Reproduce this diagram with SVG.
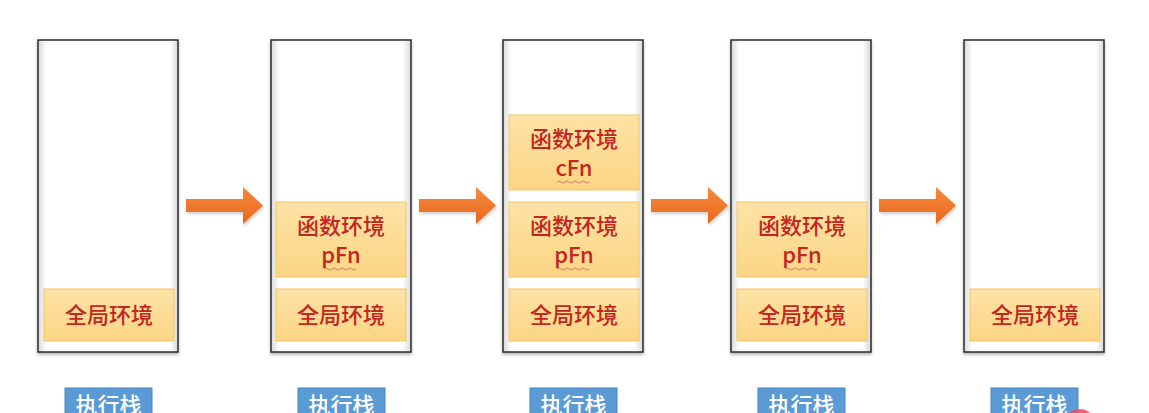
<svg xmlns="http://www.w3.org/2000/svg" width="1149" height="413" viewBox="0 0 1149 413">
<defs>
  <linearGradient id="boxg" x1="0" y1="0" x2="0" y2="1">
    <stop offset="0" stop-color="#fde3a6"/>
    <stop offset="1" stop-color="#fbd584"/>
  </linearGradient>
  <linearGradient id="arrg" x1="0" y1="0" x2="0" y2="1">
    <stop offset="0" stop-color="#f58a3c"/>
    <stop offset="1" stop-color="#e8671e"/>
  </linearGradient>
  <linearGradient id="colg" x1="0" y1="0" x2="1" y2="0">
    <stop offset="0" stop-color="#d8d8d8"/>
    <stop offset="0.06" stop-color="#ffffff"/>
    <stop offset="0.94" stop-color="#ffffff"/>
    <stop offset="1" stop-color="#d8d8d8"/>
  </linearGradient>
  <filter id="sh" x="-10%" y="-10%" width="120%" height="120%">
    <feDropShadow dx="0" dy="2" stdDeviation="1.5" flood-color="#000" flood-opacity="0.3"/>
  </filter>
  <filter id="ash" x="-10%" y="-20%" width="130%" height="150%">
    <feDropShadow dx="1" dy="2" stdDeviation="1.5" flood-color="#000" flood-opacity="0.2"/>
  </filter>
  <path id="arrow" d="M0,12 H57 V0 L77,18.5 L57,37 V25 H0 Z"/>
</defs>
<style>
  .col { fill: url(#colg); stroke: #2b2b2b; stroke-width: 1.5; filter: url(#sh); }
  .box { fill: url(#boxg); stroke: #f3c463; stroke-width: 1; }
  .t { font-family: "Noto Sans CJK SC", "Noto Sans", sans-serif; font-size: 22px; font-weight: 500; fill: #c3261e; text-anchor: middle; }
  .lbl { fill: #5b9bd5; stroke: #4a86c0; stroke-width: 1; }
  .lt { font-family: "Noto Sans CJK SC", sans-serif; font-size: 22px; font-weight: 500; fill: #ffffff; text-anchor: middle; }
  .wave { fill: none; stroke: #d06060; stroke-width: 0.8; }
  .arr { fill: url(#arrg); filter: url(#ash); }
</style>

<g id="connectors">
  <use href="#arrow" class="arr" x="186" y="187"/>
  <use href="#arrow" class="arr" x="419" y="187"/>
  <use href="#arrow" class="arr" x="651" y="187"/>
  <use href="#arrow" class="arr" x="879" y="187"/>
</g>

<g id="stack1">
  <rect class="col" x="38" y="40" width="140" height="312"/>
  <rect class="box" x="44" y="289" width="130" height="52"/>
  <text class="t" x="109" y="323">全局环境</text>
  <rect class="lbl" x="65" y="388" width="87" height="30"/>
  <text class="lt" x="108.5" y="413">执行栈</text>
</g>

<g id="stack2">
  <rect class="col" x="271" y="40" width="140" height="312"/>
  <rect class="box" x="276" y="202" width="130" height="75"/>
  <text class="t" x="341" y="234">函数环境</text>
  <text class="t" x="341" y="263">pFn</text>
  <path class="wave" d="M324,269 q2,-2 4,0 t4,0 t4,0 t4,0 t4,0 t4,0 t4,0 t4,0"/>
  <rect class="box" x="276" y="289" width="130" height="52"/>
  <text class="t" x="341" y="323">全局环境</text>
  <rect class="lbl" x="298" y="388" width="87" height="30"/>
  <text class="lt" x="341.5" y="413">执行栈</text>
</g>

<g id="stack3">
  <rect class="col" x="503" y="40" width="140" height="312"/>
  <rect class="box" x="509" y="115" width="130" height="75"/>
  <text class="t" x="574" y="147">函数环境</text>
  <text class="t" x="574" y="176">cFn</text>
  <path class="wave" d="M557,182 q2,-2 4,0 t4,0 t4,0 t4,0 t4,0 t4,0 t4,0 t4,0"/>
  <rect class="box" x="509" y="202" width="130" height="75"/>
  <text class="t" x="574" y="234">函数环境</text>
  <text class="t" x="574" y="263">pFn</text>
  <path class="wave" d="M557,269 q2,-2 4,0 t4,0 t4,0 t4,0 t4,0 t4,0 t4,0 t4,0"/>
  <rect class="box" x="509" y="289" width="130" height="52"/>
  <text class="t" x="574" y="323">全局环境</text>
  <rect class="lbl" x="530" y="388" width="87" height="30"/>
  <text class="lt" x="573.5" y="413">执行栈</text>
</g>

<g id="stack4">
  <rect class="col" x="731" y="40" width="140" height="312"/>
  <rect class="box" x="737" y="202" width="130" height="75"/>
  <text class="t" x="802" y="234">函数环境</text>
  <text class="t" x="802" y="263">pFn</text>
  <path class="wave" d="M785,269 q2,-2 4,0 t4,0 t4,0 t4,0 t4,0 t4,0 t4,0 t4,0"/>
  <rect class="box" x="737" y="289" width="130" height="52"/>
  <text class="t" x="802" y="323">全局环境</text>
  <rect class="lbl" x="758" y="388" width="87" height="30"/>
  <text class="lt" x="801.5" y="413">执行栈</text>
</g>

<g id="stack5">
  <rect class="col" x="964" y="40" width="140" height="312"/>
  <rect class="box" x="970" y="289" width="130" height="52"/>
  <text class="t" x="1035" y="323">全局环境</text>
  <rect class="lbl" x="991" y="388" width="87" height="30"/>
  <text class="lt" x="1034.5" y="413">执行栈</text>
</g>

<circle cx="1080" cy="424" r="15" fill="#e8505f" opacity="0.85"/>
</svg>
